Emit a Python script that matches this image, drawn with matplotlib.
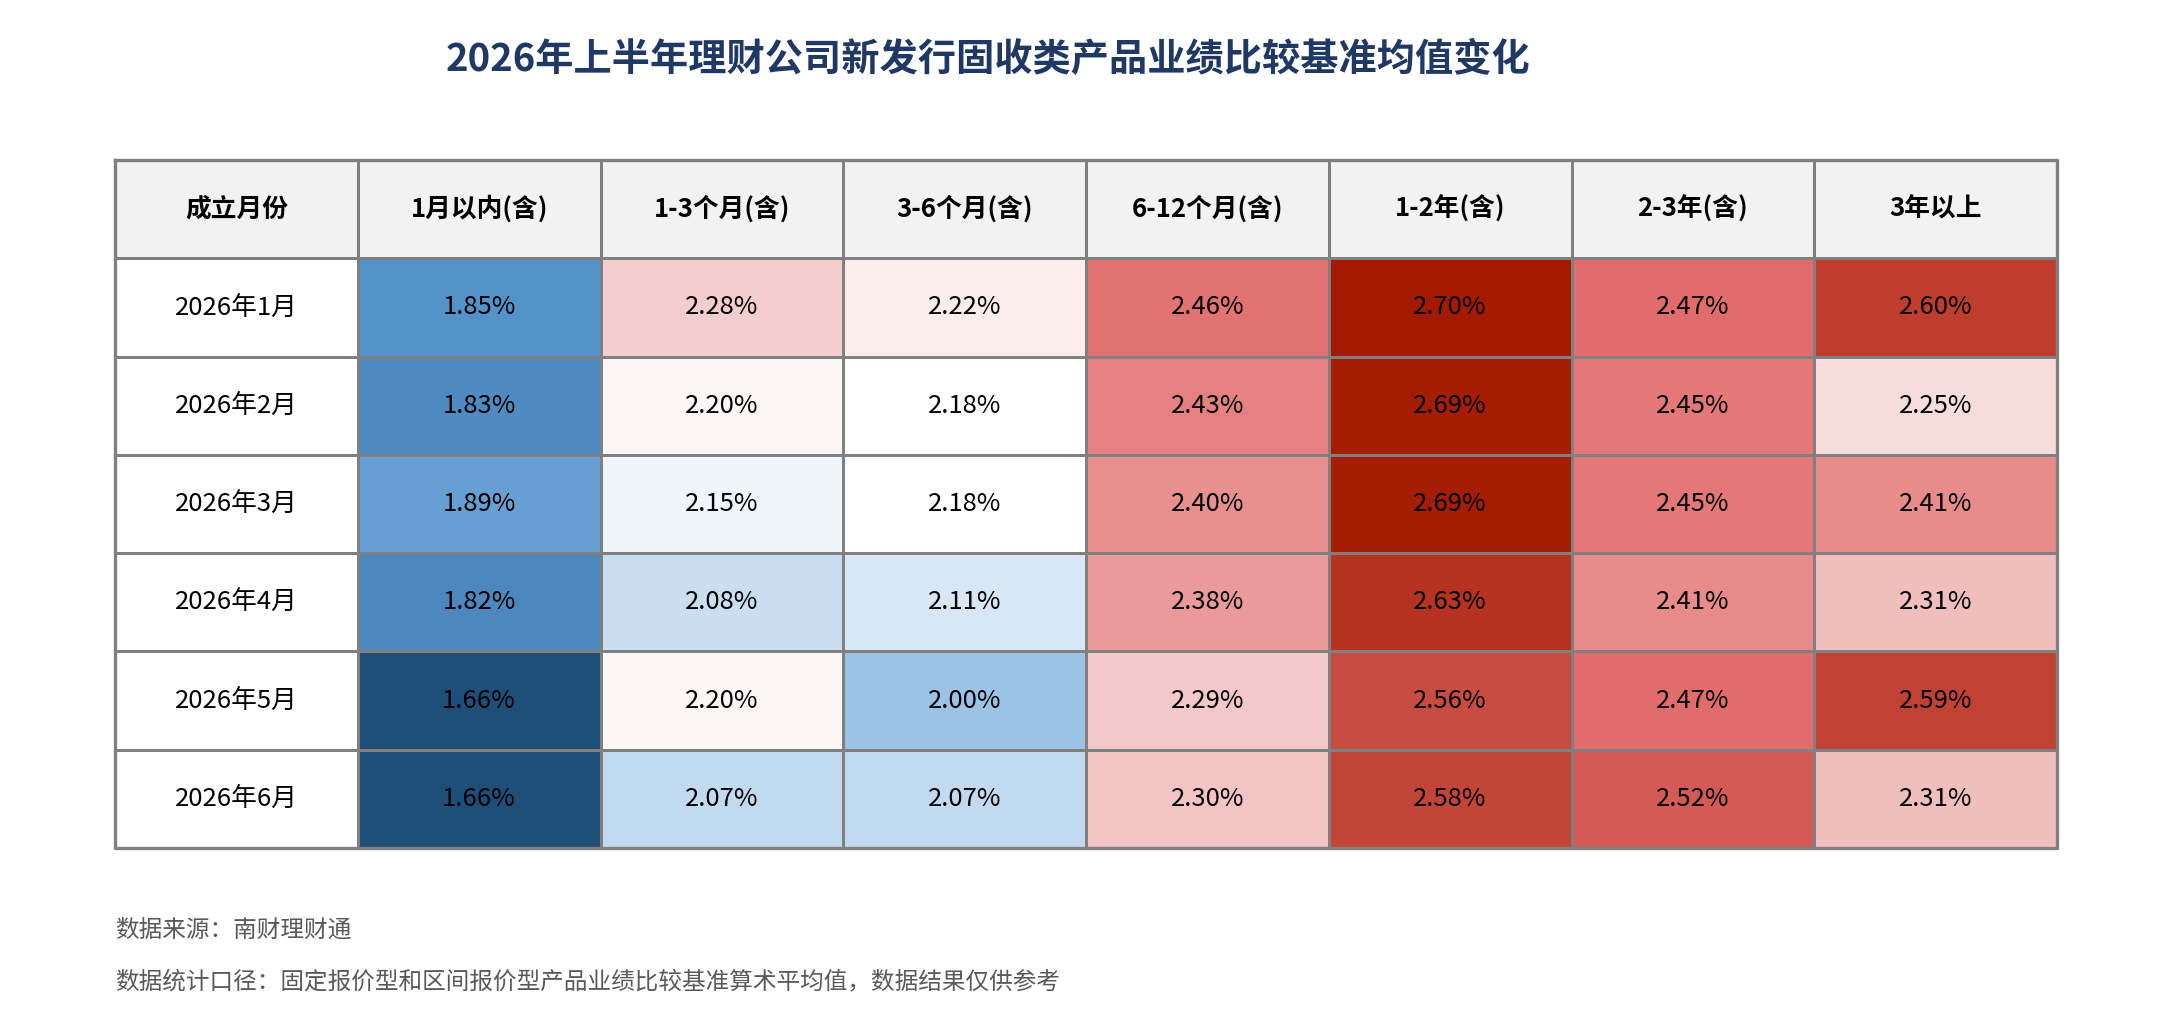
import numpy as np
import matplotlib
matplotlib.use("Agg")
import matplotlib.pyplot as plt
from matplotlib.colors import LinearSegmentedColormap, Normalize

plt.rcParams['font.family'] = ['Noto Sans CJK SC', 'DejaVu Sans']

title = "2026年上半年理财公司新发行固收类产品业绩比较基准均值变化"
first_header = "成立月份"
terms = ["1月以内(含)", "1-3个月(含)", "3-6个月(含)", "6-12个月(含)",
         "1-2年(含)", "2-3年(含)", "3年以上"]
months = ["2026年1月", "2026年2月", "2026年3月", "2026年4月", "2026年5月", "2026年6月"]

# benchmark averages (%), one list per month
jan = [1.85, 2.28, 2.22, 2.46, 2.70, 2.47, 2.60]
feb = [1.83, 2.20, 2.18, 2.43, 2.69, 2.45, 2.25]
mar = [1.89, 2.15, 2.18, 2.40, 2.69, 2.45, 2.41]
apr = [1.82, 2.08, 2.11, 2.38, 2.63, 2.41, 2.31]
may = [1.66, 2.20, 2.00, 2.29, 2.56, 2.47, 2.59]
jun = [1.66, 2.07, 2.07, 2.30, 2.58, 2.52, 2.31]

source_note = "数据来源：南财理财通"
method_note = "数据统计口径：固定报价型和区间报价型产品业绩比较基准算术平均值，数据结果仅供参考"

vals = np.array([jan, feb, mar, apr, may, jun])

# colour scale: blue -> white -> red
vmin, vmax = 1.66, 2.70
stops = [(1.66, "#1F4E79"), (1.85, "#5593CB"), (2.00, "#9DC3E6"), (2.18, "#FFFFFF"),
         (2.30, "#F2C4C4"), (2.47, "#E26D6D"), (2.70, "#A31A00")]
cmap = LinearSegmentedColormap.from_list(
    "bench", [((v - vmin) / (vmax - vmin), c) for v, c in stops])
norm = Normalize(vmin, vmax)

grid_c = "#808080"
lw = 2.0

fig = plt.figure(figsize=(21.71, 10.18), dpi=100)
ax = fig.add_axes([115 / 2171, 1 - 848 / 1018, 1942 / 2171, 688 / 1018])

nrow, ncol = vals.shape
ax.set_xlim(0, ncol + 1)
ax.set_ylim(nrow + 1, 0)
ax.axis("off")

# header row and first column backgrounds
ax.pcolormesh(np.arange(ncol + 2), [0, 1], np.zeros((1, ncol + 1)),
              cmap=LinearSegmentedColormap.from_list("hd", ["#F2F2F2", "#F2F2F2"]),
              edgecolors=grid_c, linewidth=lw)
ax.pcolormesh([0, 1], np.arange(1, nrow + 2), np.zeros((nrow, 1)),
              cmap=LinearSegmentedColormap.from_list("wt", ["#FFFFFF", "#FFFFFF"]),
              edgecolors=grid_c, linewidth=lw)
# value cells
ax.pcolormesh(np.arange(1, ncol + 2), np.arange(1, nrow + 2), vals,
              cmap=cmap, norm=norm, edgecolors=grid_c, linewidth=lw)

# outer border
for s in ["left", "right", "top", "bottom"]:
    ax.spines[s].set_visible(True)
ax.plot([0, ncol + 1, ncol + 1, 0, 0], [0, 0, nrow + 1, nrow + 1, 0],
        color=grid_c, lw=lw * 1.2, clip_on=False)

ax.text(0.5, 0.5, first_header, ha="center", va="center",
        fontsize=18.5, fontweight="bold", color="black")
for j, t in enumerate(terms):
    ax.text(j + 1.5, 0.5, t, ha="center", va="center",
            fontsize=18.5, fontweight="bold", color="black")
for i, m in enumerate(months):
    ax.text(0.5, i + 1.5, m, ha="center", va="center", fontsize=18.5, color="black")
    for j in range(ncol):
        ax.text(j + 1.5, i + 1.5, f"{vals[i, j]:.2f}%", ha="center", va="center",
                fontsize=18.5, color="black")

fig.text(988 / 2171, 1 - 60 / 1018, title, ha="center", va="center",
         fontsize=27.5, fontweight="bold", color="#1F3864")
fig.text(115 / 2171, 1 - 930 / 1018, source_note, ha="left", va="center",
         fontsize=17, color="#595959")
fig.text(115 / 2171, 1 - 982 / 1018, method_note, ha="left", va="center",
         fontsize=17, color="#595959")

fig.savefig("out.png", dpi=100, facecolor="white")
